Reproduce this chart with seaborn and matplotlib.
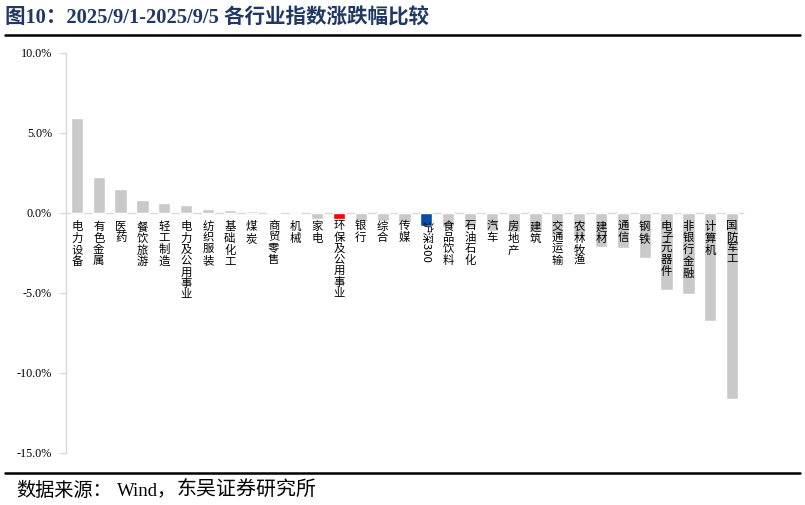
import matplotlib
matplotlib.use("Agg")
import matplotlib.pyplot as plt
import seaborn as sns
import pandas as pd
from matplotlib.lines import Line2D
from matplotlib.ticker import FuncFormatter

categories = ['电力设备', '有色金属', '医药', '餐饮旅游', '轻工制造', '电力及公用事业', '纺织服装',
              '基础化工', '煤炭', '商贸零售', '机械', '家电', '环保及公用事业', '银行', '综合', '传媒',
              '沪深300', '食品饮料', '石油石化', '汽车', '房地产', '建筑', '交通运输', '农林牧渔',
              '建材', '通信', '钢铁', '电子元器件', '非银行金融', '计算机', '国防军工']
values = [5.94, 2.25, 1.46, 0.81, 0.58, 0.50, 0.25, 0.15, 0.08, 0.02, -0.03, -0.38, -0.38,
          -0.52, -0.52, -0.60, -0.80, -0.87, -0.92, -1.12, -1.19, -1.23, -1.40, -1.50,
          -2.13, -2.20, -2.81, -4.85, -5.06, -6.75, -11.64]
yticks = [-15, -10, -5, 0, 5, 10]

sns.set_theme(style="white")
plt.rcParams['font.family'] = ['Liberation Serif', 'Noto Sans CJK SC', 'DejaVu Sans']
plt.rcParams['axes.unicode_minus'] = False

colors = []
for c in categories:
    if c == '环保及公用事业':
        colors.append('#FF0000')
    elif c == '沪深300':
        colors.append('#0A4DA6')
    else:
        colors.append('#C9C9C9')

df = pd.DataFrame({'cat': categories, 'val': values})

fig = plt.figure(figsize=(8.05, 5.05), dpi=100)
ax = fig.add_axes([66 / 805, 1 - 452.7 / 505, (743 - 66) / 805, 400 / 505])
sns.barplot(data=df, x='cat', y='val', hue='cat', palette=colors, legend=False,
            width=0.56, saturation=1, ax=ax)
ax.set_axisbelow(False)

ax.set_xlim(-0.5, len(categories) - 0.5)
ax.set_ylim(-15, 10)
ax.set_yticks(yticks)
ax.yaxis.set_major_formatter(FuncFormatter(lambda v, p: f"{v:.1f}%"))
ax.set_xlabel('')
ax.set_ylabel('')

for s in ['top', 'right']:
    ax.spines[s].set_visible(False)
ax.spines['left'].set_color('#D9D9D9')
ax.spines['left'].set_linewidth(1)
ax.spines['left'].set_zorder(0.5)
ax.spines['bottom'].set_position(('data', 0))
ax.spines['bottom'].set_color('#D9D9D9')
ax.spines['bottom'].set_linewidth(1)
ax.spines['bottom'].set_zorder(0.5)

ax.tick_params(axis='y', direction='out', length=4, width=1, color='#D9D9D9',
               labelsize=8.7, labelcolor='black', pad=6, left=True)
ax.tick_params(axis='x', length=0, pad=6, labelsize=8.2, labelcolor='black', bottom=True)

labels = []
for c in categories:
    if c == '沪深300':
        labels.append(c)
    else:
        labels.append('\n'.join(list(c)))
ax.set_xticks(range(len(categories)))
ax.set_xticklabels(labels)
for t, c in zip(ax.get_xticklabels(), categories):
    t.set_va('top')
    t.set_linespacing(1.12)
    if c == '沪深300':
        t.set_rotation(-90)
    t.set_fontfamily(['Noto Sans CJK SC', 'Liberation Serif'])

fig.text(5 / 805, 1 - 18 / 505, '图10：2025/9/1-2025/9/5 各行业指数涨跌幅比较',
         fontsize=14.8, fontweight='bold', color='#1F3864', ha='left', va='center')
fig.add_artist(Line2D([5 / 805, 800 / 805], [1 - 34.5 / 505] * 2, color='black', lw=1.8))
fig.add_artist(Line2D([5 / 805, 800 / 805], [1 - 473.3 / 505] * 2, color='black', lw=1.8))

src_y = 1 - 490.5 / 505
fig.text(16 / 805, src_y, '数据来源：', fontsize=13.8, color='black', ha='left', va='center',
         family=['Noto Sans CJK SC'])
fig.text(117 / 805, src_y, 'Wind，', fontsize=13.5, color='black', ha='left', va='center',
         family=['Liberation Serif', 'Noto Sans CJK SC'])
fig.text(177 / 805, src_y, '东吴证券研究所', fontsize=14.4, color='black', ha='left', va='center',
         family=['Noto Sans CJK SC'])

fig.savefig('out.png', dpi=100)
